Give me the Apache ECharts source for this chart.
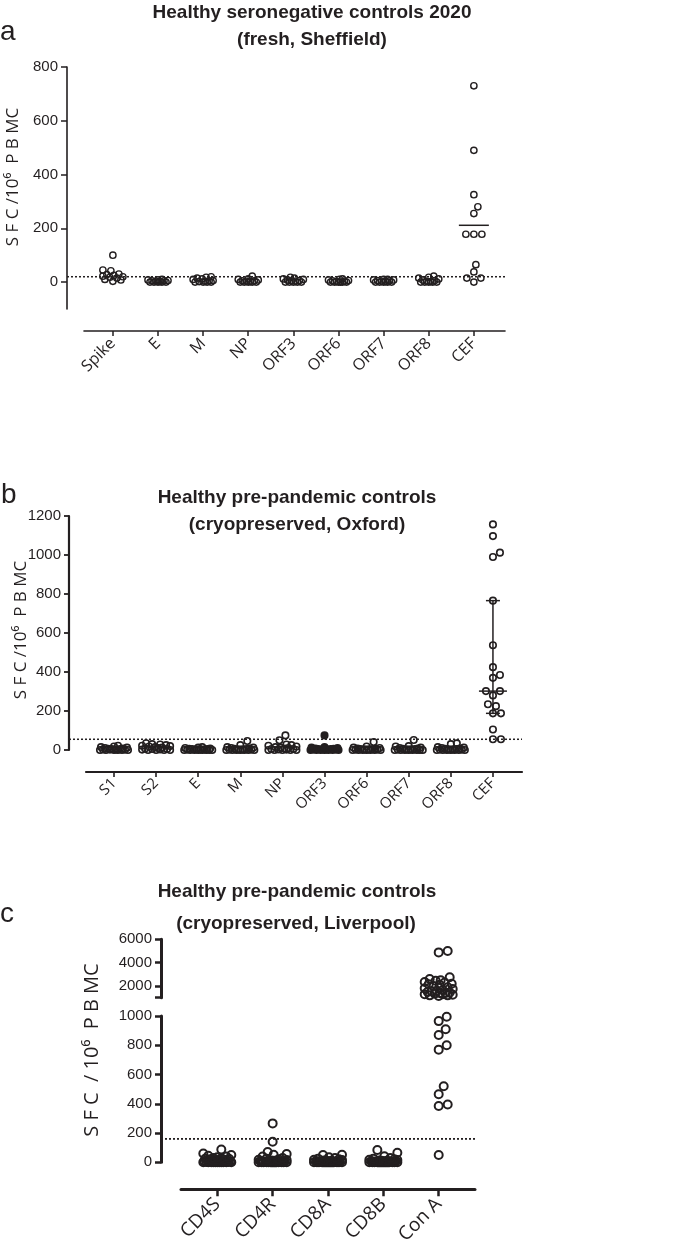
<!DOCTYPE html>
<html><head><meta charset="utf-8">
<script src="https://cdn.jsdelivr.net/npm/echarts@6/dist/echarts.min.js"></script>
<style>html,body{margin:0;padding:0;background:#fff}#c{width:685px;height:1253px}</style>
</head><body><div id="c"></div>
<script>
// ---------- Panel a data (n = 13 per antigen) ----------
const catsA = ['Spike','E','M','NP','ORF3','ORF6','ORF7','ORF8','CEF'];
const aSpike = [100, 45, 42, 30, 28, 25, 22, 20, 18, 15, 10, 8, 3];
const aE     = [10, 8, 8, 6, 5, 5, 3, 2, 0, 0, 0, 0, 0];
const aM     = [20, 18, 15, 12, 10, 6, 5, 3, 2, 0, 0, 0, 0];
const aNP    = [22, 12, 10, 8, 5, 5, 3, 2, 0, 0, 0, 0, 0];
const aORF3  = [18, 15, 12, 10, 8, 6, 5, 3, 0, 0, 0, 0, 0];
const aORF6  = [12, 10, 8, 6, 5, 3, 2, 0, 0, 0, 0, 0, 0];
const aORF7  = [10, 10, 8, 8, 6, 5, 3, 2, 0, 0, 0, 0, 0];
const aORF8  = [22, 18, 15, 12, 8, 6, 3, 2, 0, 0, 0, 0, 0];
const aCEF   = [730, 490, 325, 280, 255, 178, 178, 178, 65, 38, 15, 15, 0];
const yTicksA = [0, 200, 400, 600, 800];
const thresholdA = 20;

// ---------- Panel b data (n = 19 per antigen) ----------
const catsB = ['S1','S2','E','M','NP','ORF3','ORF6','ORF7','ORF8','CEF'];
const bS1   = [22, 18, 15, 12, 10, 8, 6, 5, 5, 3, 3, 2, 2, 0, 0, 0, 0, 0, 0];
const bS2   = [35, 30, 28, 25, 22, 20, 18, 15, 12, 10, 8, 5, 5, 3, 2, 0, 0, 0, 0];
const bE    = [15, 12, 10, 8, 6, 5, 5, 3, 3, 2, 2, 0, 0, 0, 0, 0, 0, 0, 0];
const bM    = [46, 25, 15, 12, 10, 8, 6, 5, 3, 3, 2, 2, 0, 0, 0, 0, 0, 0, 0];
const bNP   = [75, 50, 28, 25, 22, 18, 15, 12, 10, 8, 5, 5, 3, 2, 0, 0, 0, 0, 0];
const bORF3 = [75, 15, 12, 10, 8, 6, 5, 5, 3, 3, 2, 2, 0, 0, 0, 0, 0, 0, 0];
const bORF6 = [41, 18, 12, 10, 8, 6, 5, 5, 3, 3, 2, 2, 0, 0, 0, 0, 0, 0, 0];
const bORF7 = [51, 20, 18, 12, 10, 8, 6, 5, 3, 3, 2, 0, 0, 0, 0, 0, 0, 0, 0];
const bORF8 = [34, 30, 15, 12, 10, 8, 6, 5, 3, 3, 2, 2, 0, 0, 0, 0, 0, 0, 0];
const bCEF  = [1157, 1097, 1012, 990, 766, 537, 425, 385, 370, 302, 302, 280, 235, 225, 188, 188, 105, 55, 55];
const filledCatsB = ['ORF3'];
const thresholdB = 55;

// ---------- Panel c data (n = 40 per stimulus) ----------
const catsC = ['CD4S','CD4R','CD8A','CD8B','Con A'];
const cCD4S = [88,60,50,45,40,35,30,28,25,22,20,18,15,15,12,12,10,10,8,8,6,6,5,5,4,3,3,2,2,1,1,0,0,0,0,0,0,0,0,0];
const cCD4R = [266,141,70,57,52,40,30,25,20,18,15,12,10,10,8,8,6,5,5,4,3,3,2,2,1,1,0,0,0,0,0,0,0,0,0,0,0,0,0,0];
const cCD8A = [52,50,35,30,25,20,18,15,12,10,10,8,8,6,5,5,4,3,3,2,2,1,1,0,0,0,0,0,0,0,0,0,0,0,0,0,0,0,0,0];
const cCD8B = [84,65,41,30,25,20,18,15,12,10,10,8,8,6,5,5,4,3,3,2,2,1,1,0,0,0,0,0,0,0,0,0,0,0,0,0,0,0,0,0];
const cConA = [5000,4880,2750,2600,2500,2450,2350,2300,2200,2150,2100,2000,1900,1800,1750,1650,1600,1550,1500,1450,
               1400,1400,1350,1300,1300,1250,1200,1200,1150,995,965,910,870,800,770,520,465,395,385,50];
const yTicksCUpper = [2000, 4000, 6000];
const yTickMarksCUpper = [1000, 2000, 4000, 6000];
const breakC = 1000;
const thresholdC = 160;

const valsA = [aSpike,aE,aM,aNP,aORF3,aORF6,aORF7,aORF8,aCEF];
const valsB = [bS1,bS2,bE,bM,bNP,bORF3,bORF6,bORF7,bORF8,bCEF];
const valsC = [cCD4S,cCD4R,cCD8A,cCD8B,cConA];

// ---------- layout ----------
const INK = '#231f20';
const SANS = '"Liberation Sans", Arial, sans-serif';
const pA = {left:84, top:67, width:421, height:242, xMin:-0.64, xMax:8.69, yMin:-100, yMax:800};
const pB = {left:86, top:516, width:436, height:234, xMin:-0.665, xMax:9.69, yMin:0, yMax:1200};
const pCu = {left:181, top:939.3, width:294, height:58.4, xMin:-0.656, xMax:4.656, yMin:1000, yMax:6000};
const pCl = {left:181, top:1016, width:294, height:146.3, xMin:-0.656, xMax:4.656, yMin:0, yMax:1000};

function pxX(p){ return p.width/(p.xMax-p.xMin); }
function pxY(p){ return p.height/(p.yMax-p.yMin); }

// beeswarm layout in pixel space -> data coordinates
function swarm(vals, cat, p, diam, maxHalf){
  const sx = pxX(p), sy = pxY(p);
  const sorted = vals.slice().sort((a,b)=>a-b);
  const cands = [0];
  for (let k=1;k<=maxHalf;k+=1){ cands.push(k,-k); }
  const placed = [], out = [];
  sorted.forEach(v=>{
    const py = v*sy;
    let best = 0, bestD = -1;
    for (const c of cands){
      let md = Infinity;
      for (const q of placed){ const d = Math.hypot(c-q[0], py-q[1]); if (d<md) md=d; }
      if (md >= diam){ best=c; bestD=md; break; }
      if (md > bestD + 1e-9){ bestD=md; best=c; }
    }
    placed.push([best, py]);
    out.push([cat + best/sx, v]);
  });
  return out;
}

function scatter(data, gi, size, bw, fill){
  return {type:'scatter', xAxisIndex:gi, yAxisIndex:gi, data:data, symbol:'circle', symbolSize:size,
    itemStyle:{color: fill ? INK : 'rgba(0,0,0,0)', borderColor:INK, borderWidth:bw, opacity:1},
    silent:true, animation:false, clip:false, z:3};
}
function thrLine(gi, v, w){
  return {type:'line', xAxisIndex:gi, yAxisIndex:gi, data:[[0,v],[1,v]], symbol:'none', silent:true, animation:false,
    lineStyle:{color:INK, width:w, type:[2,2]}, z:2};
}

// summaries
const meanA = aCEF.reduce((s,v)=>s+v,0)/aCEF.length;
function quart(arr, pq){
  const s = arr.slice().sort((a,b)=>a-b); const n=s.length; const pos=(n+1)*pq;
  const lo=Math.floor(pos), hi=Math.ceil(pos);
  if (lo<1) return s[0]; if (hi>n) return s[n-1];
  return s[lo-1] + (pos-lo)*(s[hi-1]-s[lo-1]);
}
const sumB = [catsB.indexOf('CEF'), quart(bCEF,0.5), quart(bCEF,0.25), quart(bCEF,0.75)];

// data points
const ptsA = []; valsA.forEach((v,i)=>ptsA.push(...swarm(v,i,pA,7.5,10)));
const ptsBo = [], ptsBf = [];
valsB.forEach((v,i)=>{ const s = swarm(v,i,pB,7.5,14); (filledCatsB.includes(catsB[i])?ptsBf:ptsBo).push(...s); });
const ptsCu = [], ptsCl = [];
valsC.forEach((v,i)=>{
  const up = v.filter(x=>x>breakC), lo = v.filter(x=>x<=breakC);
  if (up.length) ptsCu.push(...swarm(up,i,pCu,9,14));
  if (lo.length) ptsCl.push(...swarm(lo,i,pCl,9,14));
});

const numFont = {fontFamily:SANS, fontSize:15, color:INK};
const catFont = (fs)=>({fontFamily:'Open Sans', fontSize:fs, color:INK});
const plain = v => String(v);

function grid(p){ return {left:p.left, top:p.top, width:p.width, height:p.height, outerBoundsMode:'none', containLabel:false}; }
function hiddenX(min,max,gi){ return {type:'value', gridIndex:gi, min:min, max:max, show:false}; }
function hiddenY(min,max,gi){ return {type:'value', gridIndex:gi, min:min, max:max, show:false}; }

const ints = n => Array.from({length:n},(_,i)=>i);
const TFONT = 'bold 19px ' + SANS;
const LFONT = '28px ' + SANS;
function txt(x, y, text, font, align, rot){
  const el = {type:'text', x:x, y:y, style:{text:text, font:font, fill:INK, align:align, verticalAlign:'middle', textAlign:align, textVerticalAlign:'middle'}};
  if (rot) el.rotation = rot;
  return el;
}

const option = {
  backgroundColor:'#fff',
  animation:false,
  grid:[
    grid(pA),
    {left:67, top:pA.top, width:438, height:pA.height, outerBoundsMode:'none'},
    grid(pB),
    {left:69, top:pB.top, width:453, height:pB.height, outerBoundsMode:'none'},
    grid(pCu),
    grid(pCl),
    {left:161, top:pCl.top, width:316, height:pCl.height, outerBoundsMode:'none'}
  ],
  xAxis:[
    {type:'value', gridIndex:0, min:pA.xMin, max:pA.xMax, offset:22, position:'bottom',
      axisLine:{show:true, onZero:false, lineStyle:{color:INK, width:1.6}},
      axisTick:{show:true, length:5, lineStyle:{color:INK, width:1.5}, customValues:ints(catsA.length)},
      axisLabel:{show:true, rotate:45, margin:10, customValues:ints(catsA.length), formatter:v=>catsA[Math.round(v)], ...catFont(16)},
      splitLine:{show:false}},
    hiddenX(0,1,1),
    {type:'value', gridIndex:2, min:pB.xMin, max:pB.xMax, offset:22, position:'bottom',
      axisLine:{show:true, onZero:false, lineStyle:{color:INK, width:2.2}},
      axisTick:{show:true, length:5, lineStyle:{color:INK, width:1.6}, customValues:ints(catsB.length)},
      axisLabel:{show:true, rotate:45, margin:9, customValues:ints(catsB.length), formatter:v=>catsB[Math.round(v)], ...catFont(15)},
      splitLine:{show:false}},
    hiddenX(0,1,3),
    hiddenX(pCu.xMin,pCu.xMax,4),
    {type:'value', gridIndex:5, min:pCl.xMin, max:pCl.xMax, offset:27, position:'bottom',
      axisLine:{show:true, onZero:false, lineStyle:{color:INK, width:3}},
      axisTick:{show:true, length:7, lineStyle:{color:INK, width:2.5}, customValues:ints(catsC.length)},
      axisLabel:{show:true, rotate:45, margin:12, customValues:ints(catsC.length), formatter:v=>catsC[Math.round(v)], ...catFont(19)},
      splitLine:{show:false}},
    hiddenX(0,1,6)
  ],
  yAxis:[
    {type:'value', gridIndex:0, min:pA.yMin, max:pA.yMax, offset:17, position:'left',
      axisLine:{show:true, onZero:false, lineStyle:{color:INK, width:1.6}},
      axisTick:{show:true, length:6, lineStyle:{color:INK, width:1.5}, customValues:yTicksA},
      axisLabel:{show:true, margin:9, customValues:yTicksA, formatter:plain, ...numFont},
      splitLine:{show:false}},
    hiddenY(pA.yMin,pA.yMax,1),
    {type:'value', gridIndex:2, min:pB.yMin, max:pB.yMax, interval:200, offset:17, position:'left',
      axisLine:{show:true, onZero:false, lineStyle:{color:INK, width:2.2}},
      axisTick:{show:true, length:5, lineStyle:{color:INK, width:1.8}},
      axisLabel:{show:true, margin:8, formatter:plain, ...numFont},
      splitLine:{show:false}},
    hiddenY(pB.yMin,pB.yMax,3),
    {type:'value', gridIndex:4, min:pCu.yMin, max:pCu.yMax, offset:20, position:'left',
      axisLine:{show:true, onZero:false, lineStyle:{color:INK, width:3}},
      axisTick:{show:true, length:6, lineStyle:{color:INK, width:2.5}, customValues:yTickMarksCUpper},
      axisLabel:{show:true, margin:9, customValues:yTicksCUpper, formatter:plain, ...numFont},
      splitLine:{show:false}},
    {type:'value', gridIndex:5, min:pCl.yMin, max:pCl.yMax, interval:200, offset:20, position:'left',
      axisLine:{show:true, onZero:false, lineStyle:{color:INK, width:3}},
      axisTick:{show:true, length:6, lineStyle:{color:INK, width:2.5}},
      axisLabel:{show:true, margin:9, formatter:plain, ...numFont},
      splitLine:{show:false}},
    hiddenY(pCl.yMin,pCl.yMax,6)
  ],
  series:[
    thrLine(1, thresholdA, 1.5),
    scatter(ptsA, 0, 6.3, 1.4, false),
    {type:'custom', xAxisIndex:0, yAxisIndex:0, data:[[catsA.indexOf('CEF'), meanA]], silent:true, animation:false, z:4,
      renderItem:(params, api)=>{ const c = api.coord([api.value(0), api.value(1)]);
        return {type:'line', shape:{x1:c[0]-15,y1:c[1],x2:c[0]+15,y2:c[1]}, style:{stroke:INK, lineWidth:1.5}}; }},
    thrLine(3, thresholdB, 1.5),
    scatter(ptsBo, 2, 6.5, 1.6, false),
    scatter(ptsBf, 2, 6.5, 1.6, true),
    {type:'custom', xAxisIndex:2, yAxisIndex:2, data:[sumB], encode:{x:0, y:1}, silent:true, animation:false, z:4,
      renderItem:(params, api)=>{
        const x=api.value(0);
        const pm=api.coord([x,api.value(1)]), p1=api.coord([x,api.value(2)]), p3=api.coord([x,api.value(3)]);
        const st={stroke:INK, lineWidth:1.5};
        return {type:'group', children:[
          {type:'line', shape:{x1:pm[0]-14,y1:pm[1],x2:pm[0]+14,y2:pm[1]}, style:st},
          {type:'line', shape:{x1:p1[0],y1:p1[1],x2:p3[0],y2:p3[1]}, style:st},
          {type:'line', shape:{x1:p1[0]-7,y1:p1[1],x2:p1[0]+7,y2:p1[1]}, style:st},
          {type:'line', shape:{x1:p3[0]-7,y1:p3[1],x2:p3[0]+7,y2:p3[1]}, style:st}
        ]};
      }},
    scatter(ptsCu, 4, 8, 2, false),
    scatter(ptsCl, 5, 8, 2, false),
    thrLine(6, thresholdC, 1.8)
  ],
  graphic:[
    txt(0, 32, 'a', LFONT, 'left'),
    txt(312, 13, 'Healthy seronegative controls 2020', TFONT, 'center'),
    txt(312, 40, '(fresh, Sheffield)', TFONT, 'center'),
    txt(13, 177, 'S F C /10\u2076  P B MC', '17px "Open Sans"', 'center', Math.PI/2),

    txt(1, 495, 'b', LFONT, 'left'),
    txt(297, 498, 'Healthy pre-pandemic controls', TFONT, 'center'),
    txt(297, 525, '(cryopreserved, Oxford)', TFONT, 'center'),
    txt(21, 630, 'S F C /10\u2076  P B MC', '17px "Open Sans"', 'center', Math.PI/2),

    txt(0, 914, 'c', LFONT, 'left'),
    txt(297, 892, 'Healthy pre-pandemic controls', TFONT, 'center'),
    txt(296, 924, '(cryopreserved, Liverpool)', TFONT, 'center'),
    txt(92, 1050, 'S F C  / 10\u2076  P B MC', '20px "Open Sans"', 'center', Math.PI/2)
  ]
};

const chart = echarts.init(document.getElementById('c'), null, {renderer:'canvas'});
chart.setOption(option);
</script>
</body></html>
